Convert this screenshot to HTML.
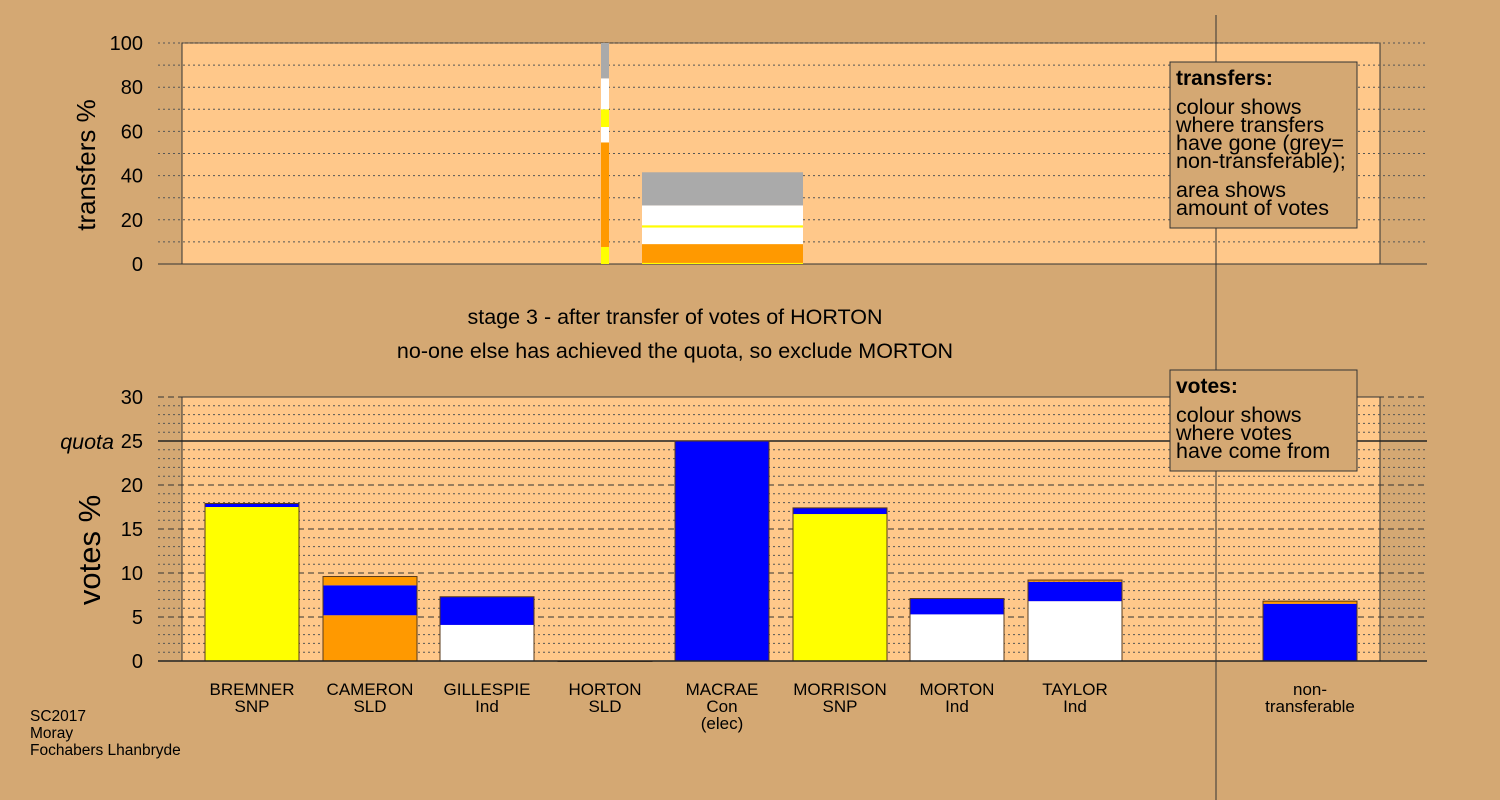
<!DOCTYPE html>
<html><head><meta charset="utf-8"><style>
body{margin:0;background:#D4A873;}
svg{display:block;font-family:"Liberation Sans",sans-serif;}
</style></head><body>
<svg id="c" width="1500" height="800" viewBox="0 0 1500 800">
<rect x="0" y="0" width="1500" height="800" fill="#D4A873"/>
<rect x="182" y="43" width="1198" height="221" fill="#FFC88A" stroke="#333" stroke-width="1"/>
<rect x="182" y="397" width="1198" height="264" fill="#FFC88A" stroke="#333" stroke-width="1"/>
<g id="topg"></g>
<g id="botg"></g>
<text x="95" y="165" font-size="26" text-anchor="middle" transform="rotate(-90 95 165)">transfers %</text>
<text x="100" y="550" font-size="31" text-anchor="middle" transform="rotate(-90 100 550)">votes %</text>
<text x="675" y="324" font-size="21.5" text-anchor="middle">stage 3 - after transfer of votes of HORTON</text>
<text x="675" y="358" font-size="21.5" text-anchor="middle">no-one else has achieved the quota, so exclude MORTON</text>
<line x1="1216" y1="15" x2="1216" y2="800" stroke="#333" stroke-width="1"/>
<g>
<rect x="1170" y="62" width="187" height="166" fill="#D4A873" stroke="#333"/>
<text x="1176" y="85" font-size="21" font-weight="bold">transfers:</text>
<text font-size="21.5"><tspan x="1176" y="114">colour shows</tspan><tspan x="1176" y="132">where transfers</tspan><tspan x="1176" y="150">have gone (grey=</tspan><tspan x="1176" y="168">non-transferable);</tspan><tspan x="1176" y="197">area shows</tspan><tspan x="1176" y="215">amount of votes</tspan></text>
</g>
<g>
<rect x="1170" y="370" width="187" height="101" fill="#D4A873" stroke="#333"/>
<text x="1176" y="393" font-size="21" font-weight="bold">votes:</text>
<text font-size="21.5"><tspan x="1176" y="422">colour shows</tspan><tspan x="1176" y="440">where votes</tspan><tspan x="1176" y="458">have come from</tspan></text>
</g>
<text font-size="15.5"><tspan x="30" y="721">SC2017</tspan><tspan x="30" y="738">Moray</tspan><tspan x="30" y="755">Fochabers Lhanbryde</tspan></text>
</svg>
<script>
const NS="http://www.w3.org/2000/svg";
// top chart data (transfers %)
const topTicks=[0,20,40,60,80,100];
const thinStack=[["#FFFF00",7.7],["#FF9900",47.3],["#FFFFFF",7],["#FFFF00",8],["#FFFFFF",14],["#AAAAAA",16]];
const wideStack=[["#FFFF00",0.5],["#FF9900",8.5],["#FFFFFF",7.5],["#FFFF00",1],["#FFFFFF",9],["#AAAAAA",15]];
// bottom chart data (votes %)
const categories=["BREMNER\nSNP","CAMERON\nSLD","GILLESPIE\nInd","HORTON\nSLD","MACRAE\nCon\n(elec)","MORRISON\nSNP","MORTON\nInd","TAYLOR\nInd","non-\ntransferable"];
const votesWhite=[0,0,4.1,0,0,0,5.3,6.8,0];
const votesYellow=[17.5,0,0,0,0,16.7,0,0,0];
const votesOrange=[0,5.2,0,0,0,0,0,0,0];
const votesBlue=[0.4,3.4,3.2,0,25,0.7,1.8,2.2,6.5];
const votesOrangeTop=[0,1.0,0,0,0,0,0,0.2,0.3];
const botTicks=[0,5,10,15,20,25,30];
const quota=25;

const yT=v=>264-v*2.21, yB=v=>661-v*8.8;
const centers=[252,370,487,605,722,840,957,1075,1310];
function mk(tag,attrs,parent){const e=document.createElementNS(NS,tag);for(const k in attrs)e.setAttribute(k,attrs[k]);parent.appendChild(e);return e;}
const tg=document.getElementById('topg'), bg=document.getElementById('botg');
for(let v=10;v<=100;v+=10){const l=mk('line',{x1:158,x2:1427,y1:yT(v),y2:yT(v),stroke:'#555','stroke-width':1,'stroke-dasharray':'2,3'},tg);

}
mk('line',{x1:158,x2:1427,y1:264,y2:264,stroke:'#333','stroke-width':1},tg);
topTicks.forEach(v=>{const t=mk('text',{x:143,y:yT(v)+7,'font-size':20,'text-anchor':'end'},tg);t.textContent=v;

});
function stack(arr,x,w,g,name){let c=0;arr.forEach(([col,h])=>{const r=mk('rect',{x:x,width:w,y:yT(c+h),height:h*2.21,fill:col},g);

c+=h;});}
stack(thinStack,601,8,tg,'horton-transfer-segment');
stack(wideStack,642,161,tg,'morton-transfer-segment');
for(let v=1;v<30;v++){if(v%5===0)continue;const l=mk('line',{x1:158,x2:1427,y1:yB(v),y2:yB(v),stroke:'#555','stroke-width':1,'stroke-dasharray':'2,3'},bg);

}
for(let v=5;v<=30;v+=5){if(v===quota)continue;const l=mk('line',{x1:158,x2:1427,y1:yB(v),y2:yB(v),stroke:'#333','stroke-width':1,'stroke-dasharray':'6,4'},bg);

}
const ql=mk('line',{x1:158,x2:1427,y1:yB(quota),y2:yB(quota),stroke:'#222','stroke-width':1.5},bg);


botTicks.forEach(v=>{const t=mk('text',{x:143,y:yB(v)+7,'font-size':20,'text-anchor':'end'},bg);t.textContent=v;

});
const qt=mk('text',{x:114,y:yB(quota)+8,'font-size':21.5,'text-anchor':'end','font-style':'italic'},bg);qt.textContent='quota';


categories.forEach((cat,i)=>{
  const x=centers[i]-47,w=94;
  const segs=[["#FFFFFF",votesWhite[i]],["#FFFF00",votesYellow[i]],["#FF9900",votesOrange[i]],["#0000FF",votesBlue[i]],["#FF9900",votesOrangeTop[i]]];
  let c=0;
  segs.forEach(([col,h])=>{if(h<=0)return;const r=mk('rect',{x:x,width:w,y:yB(c+h),height:h*8.8,fill:col},bg);
    
    c+=h;});
  const o=mk('rect',{x:x,width:w,y:yB(c),height:Math.max(c*8.8,0.5),fill:'none',stroke:'#5a3a1a','stroke-width':1},bg);
  
  
  const t=mk('text',{x:centers[i],'font-size':17,'text-anchor':'middle'},bg);
  
  
  cat.split("\n").forEach((ln,j)=>{const s=mk('tspan',{x:centers[i],y:695+j*17},t);s.textContent=ln;});
});
mk('line',{x1:158,x2:1427,y1:661,y2:661,stroke:'#222','stroke-width':1.5},bg);
</script>
</body></html>
